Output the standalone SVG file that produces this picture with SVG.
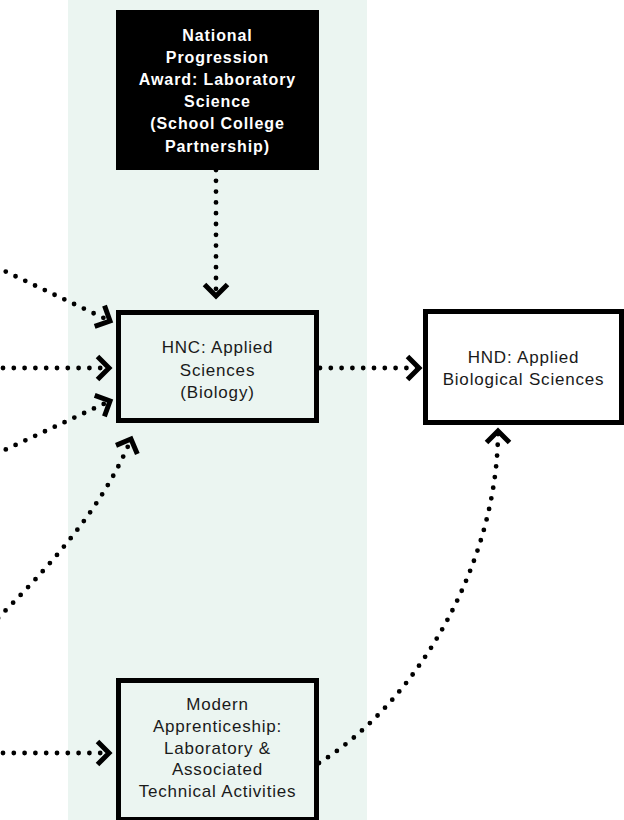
<svg xmlns="http://www.w3.org/2000/svg" width="624" height="820" viewBox="0 0 624 820">
<defs>
<style>
.t{font-family:"Liberation Sans",Arial,sans-serif;font-size:17px;fill:#1a1a1a;text-anchor:middle;letter-spacing:0.8px}
.tb{font-family:"Liberation Sans",Arial,sans-serif;font-size:16px;font-weight:bold;fill:#fff;text-anchor:middle;letter-spacing:0.9px}
.box{stroke:#000;stroke-width:5;fill:none}
.dot{fill:none;stroke:#000;stroke-width:4.8;stroke-linecap:round;stroke-dasharray:0 10.8;marker-end:url(#chev)}
</style>
<marker id="chev" markerUnits="userSpaceOnUse" viewBox="-20 -20 40 40" refX="0" refY="0" markerWidth="40" markerHeight="40" orient="auto" overflow="visible">
<path d="M-11.5,-11.5 L0,0 L-11.5,11.5" fill="none" stroke="#000" stroke-width="5" stroke-dasharray="none"/>
</marker>
</defs>
<rect x="68" y="0" width="299" height="820" fill="#ebf5f1"/>
<g id="npa">
<rect x="116" y="10" width="203" height="160" fill="#000"/>
<text class="tb" x="217.5" y="41">National</text>
<text class="tb" x="217.5" y="63">Progression</text>
<text class="tb" x="217.5" y="85">Award: Laboratory</text>
<text class="tb" x="217.5" y="107">Science</text>
<text class="tb" x="217.5" y="129">(School College</text>
<text class="tb" x="217.5" y="152">Partnership)</text>
</g>
<g id="hnc">
<rect class="box" x="118.5" y="312.5" width="198" height="108"/>
<text class="t" x="217.5" y="352.5">HNC: Applied</text>
<text class="t" x="217.5" y="375.5">Sciences</text>
<text class="t" x="217.5" y="398">(Biology)</text>
</g>
<g id="hnd">
<rect class="box" x="425.5" y="311.5" width="196" height="111" style="fill:#fff"/>
<text class="t" x="523.5" y="363">HND: Applied</text>
<text class="t" x="523.5" y="384.5">Biological Sciences</text>
</g>
<g id="ma">
<rect class="box" x="118.5" y="680.5" width="198" height="139"/>
<text class="t" x="217.5" y="710">Modern</text>
<text class="t" x="217.5" y="732">Apprenticeship:</text>
<text class="t" x="217.5" y="753.5">Laboratory &amp;</text>
<text class="t" x="217.5" y="775">Associated</text>
<text class="t" x="217.5" y="797">Technical Activities</text>
</g>
<g id="connectors">
<path class="dot" d="M216,170 L216,296"/>
<path class="dot" d="M-4,267 L110,321"/>
<path class="dot" d="M3,368 L109,368"/>
<path class="dot" d="M-4,454 L110,401"/>
<path class="dot" d="M-2,618 C48,568 103,508 131,439"/>
<path class="dot" d="M3,753 L109,753"/>
<path class="dot" d="M320,368 L419,368"/>
<path class="dot" d="M319,763 C420,700 498,560 498,431"/>
</g>
</svg>
